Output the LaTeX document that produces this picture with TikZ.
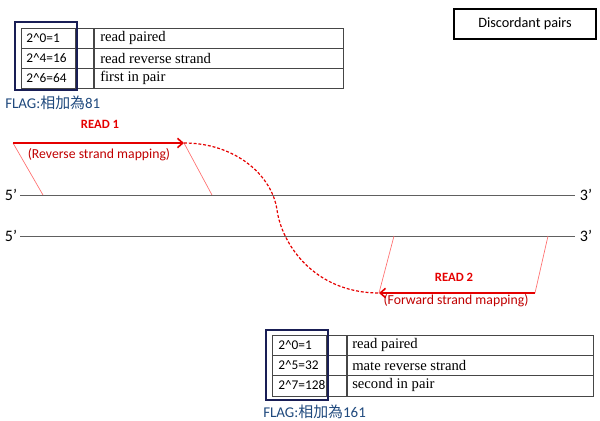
\documentclass[tikz,border=0pt]{standalone}
\usepackage{fontspec}
\setmainfont{Liberation Serif}
\newfontfamily\calfont{Carlito}
\newfontfamily\cjkfont{Noto Sans CJK TC}
\usetikzlibrary{arrows.meta}
\definecolor{navyb}{RGB}{25,30,85}
\definecolor{flagblue}{RGB}{31,73,125}
\definecolor{darkred}{RGB}{192,0,0}
\definecolor{gridc}{RGB}{70,70,70}
\definecolor{paler}{RGB}{255,110,110}
\tikzset{
  grid/.style={draw=gridc, line width=0.7pt},
  thickgrid/.style={draw=gridc, line width=1.2pt},
  navybox/.style={draw=navyb, line width=1.8pt},
  codetxt/.style={anchor=west, inner sep=0pt, font=\calfont\fontsize{10}{12}\selectfont},
  desctxt/.style={anchor=west, inner sep=0pt, font=\fontsize{11}{13}\selectfont},
  flagtxt/.style={anchor=west, inner sep=0pt, text=flagblue, font=\calfont\fontsize{11.2}{13}\selectfont},
  endtxt/.style={inner sep=0pt, font=\calfont\fontsize{12}{14}\selectfont},
  strand/.style={draw=gray!75!black, line width=0.75pt},
  readlbl/.style={inner sep=0pt, text=red!90!black, font=\calfont\bfseries\fontsize{9.5}{11}\selectfont},
  maplbl/.style={inner sep=0pt, text=darkred, font=\calfont\fontsize{10.3}{12}\selectfont},
  readarrow/.style={draw=red!90!black, line width=1.5pt, -{Straight Barb[length=4pt,width=7pt,line width=1.2pt]}},
  guide/.style={draw=paler, line width=0.5pt},
  linkcurve/.style={draw=red!90!black, line width=0.9pt, dash pattern=on 2.2pt off 1.4pt},
}
\begin{document}
\begin{tikzpicture}[x=0.75pt,y=-0.75pt]
\useasboundingbox (0,0) rectangle (600,421);

% ---------- top table ----------
\draw[grid] (21,28) rectangle (343,88);
\draw[grid] (21,48) -- (343,48) (21,68) -- (343,68);
\draw[grid] (75,28) -- (75,88);
\draw[thickgrid] (94,28) -- (94,88);
\draw[navybox] (15,22) rectangle (77,90);
\node[codetxt] (t1a) at (26,38) {2\string^0=1};
\node[codetxt] (t1b) at (26,58) {2\string^4=16};
\node[codetxt] (t1c) at (26,78) {2\string^6=64};
\node[desctxt] (t1d) at (100,38) {read paired};
\node[desctxt] (t1e) at (100,58) {read reverse strand};
\node[desctxt] (t1f) at (100,78) {first in pair};
\node[flagtxt] (flag1) at (5,103) {FLAG:{\cjkfont 相加為}81};

% ---------- title box ----------
\node[draw=black, line width=1.5pt, minimum width=142*0.75pt, minimum height=30*0.75pt,
      inner sep=0pt, font=\calfont\fontsize{10.7}{12}\selectfont] (title) at (525,24) {Discordant pairs};

% ---------- strands ----------
\coordinate (s1l) at (20,195);
\coordinate (s1r) at (575,195);
\coordinate (s2l) at (20,236);
\coordinate (s2r) at (575,236);
\draw[strand] (s1l) -- (s1r);
\draw[strand] (s2l) -- (s2r);
\node[endtxt] (p5a) at (11,195) {5’};
\node[endtxt] (p3a) at (586,195) {3’};
\node[endtxt] (p5b) at (11,236) {5’};
\node[endtxt] (p3b) at (586,236) {3’};

% ---------- read 1 ----------
\coordinate (r1s) at (13,143);
\coordinate (r1e) at (184,143);
\coordinate (g1a) at (43,195);
\coordinate (g1b) at (212,195);
\draw[guide] (r1s) -- (g1a);
\draw[guide] (r1e) -- (g1b);
\draw[readarrow] (r1s) -- (r1e);
\node[readlbl] (read1) at (100,124) {READ 1};
\node[maplbl] (map1) at (99,155) {(Reverse strand mapping)};

% ---------- read 2 ----------
\coordinate (r2s) at (535,293);
\coordinate (r2e) at (379,293);
\coordinate (g2a) at (394,236);
\coordinate (g2b) at (548,236);
\draw[guide] (r2e) -- (g2a);
\draw[guide] (r2s) -- (g2b);
\draw[readarrow] (r2s) -- (r2e);
\node[readlbl] (read2) at (454,277) {READ 2};
\node[maplbl] (map2) at (456,301) {(Forward strand mapping)};

% ---------- dashed link ----------
\coordinate (mid) at (277,210);
\draw[linkcurve] (r1e) .. controls (235,143) and (272,175) .. (mid)
                 .. controls (282,245) and (315,293) .. (r2e);

% ---------- bottom table ----------
\draw[grid] (272,335) rectangle (593,396);
\draw[grid] (272,355) -- (593,355) (272,375) -- (593,375);
\draw[grid] (326,335) -- (326,396);
\draw[thickgrid] (347,335) -- (347,396);
\draw[navybox] (266,330) rectangle (328,400);
\node[codetxt] (t2a) at (278,345) {2\string^0=1};
\node[codetxt] (t2b) at (278,365) {2\string^5=32};
\node[codetxt] (t2c) at (278,385) {2\string^7=128};
\node[desctxt] (t2d) at (352,345) {read paired};
\node[desctxt] (t2e) at (352,365) {mate reverse strand};
\node[desctxt] (t2f) at (352,385) {second in pair};
\node[flagtxt] (flag2) at (263,412) {FLAG:{\cjkfont 相加為}161};
\end{tikzpicture}
\end{document}
